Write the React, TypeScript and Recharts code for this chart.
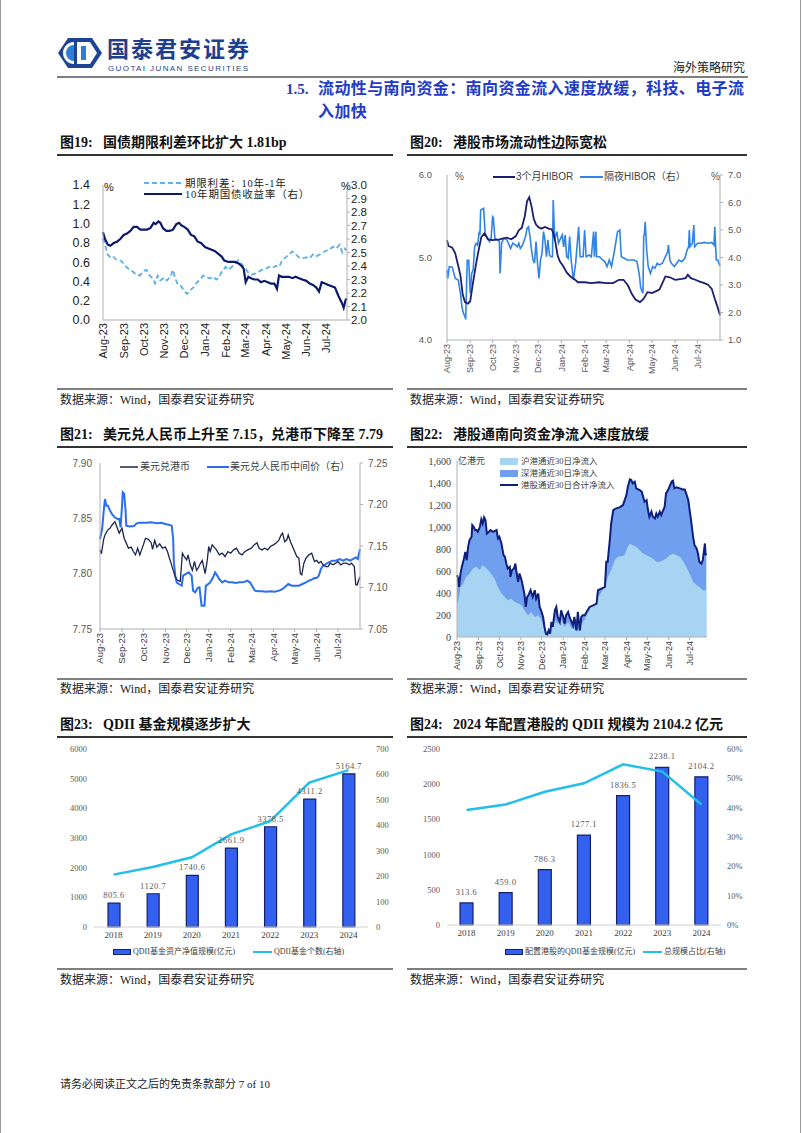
import React from "react";
import { ComposedChart, Line, Area, Bar, XAxis, YAxis, LabelList } from "recharts";

type Pt = [number, number];

const SANS = 'Arial, "Liberation Sans", "Noto Sans CJK SC", sans-serif';
const SERIF = '"Times New Roman", "Liberation Serif", "Noto Sans CJK SC", serif';
const CJK = '"Liberation Serif", "Noto Sans CJK SC", sans-serif';

// day offsets from 2023-08-01
const MONTH_DAYS = [0, 31, 61, 92, 122, 153, 184, 213, 244, 274, 305, 335];
const MONTH_LABELS = ["Aug-23", "Sep-23", "Oct-23", "Nov-23", "Dec-23", "Jan-24", "Feb-24", "Mar-24", "Apr-24", "May-24", "Jun-24", "Jul-24"];

// 图19
const termSpread: Pt[] = [
  [0, 0.85], [3, 0.78], [7, 0.68], [11, 0.65], [15, 0.66], [19, 0.63], [24, 0.62], [28, 0.61], [31, 0.58], [35, 0.55],
  [40, 0.52], [45, 0.5], [50, 0.47], [55, 0.46], [61, 0.51], [65, 0.52], [70, 0.46], [75, 0.43], [78, 0.38], [82, 0.46],
  [86, 0.41], [92, 0.44], [96, 0.41], [101, 0.45], [105, 0.52], [108, 0.44], [112, 0.37], [117, 0.35], [122, 0.3], [126, 0.27],
  [131, 0.31], [136, 0.34], [141, 0.39], [146, 0.42], [150, 0.46], [155, 0.45], [160, 0.43], [165, 0.45], [170, 0.42], [174, 0.44],
  [178, 0.5], [184, 0.55], [188, 0.52], [193, 0.55], [198, 0.58], [203, 0.62], [208, 0.58], [213, 0.54], [218, 0.49], [223, 0.47],
  [228, 0.48], [233, 0.5], [238, 0.52], [244, 0.53], [249, 0.55], [254, 0.54], [259, 0.56], [264, 0.55], [269, 0.62], [274, 0.65],
  [279, 0.68], [284, 0.71], [289, 0.68], [294, 0.65], [299, 0.64], [305, 0.65], [310, 0.64], [315, 0.68], [320, 0.66], [325, 0.68],
  [330, 0.7], [335, 0.72], [340, 0.73], [345, 0.76], [350, 0.74], [355, 0.78], [359, 0.7], [363, 0.74], [365, 0.72],
];
const cgb10y: Pt[] = [
  [0, 2.65], [3, 2.6], [7, 2.56], [11, 2.55], [16, 2.57], [21, 2.58], [26, 2.6], [31, 2.63], [36, 2.64], [41, 2.66],
  [46, 2.69], [51, 2.69], [56, 2.67], [61, 2.67], [66, 2.67], [71, 2.68], [76, 2.72], [79, 2.71], [83, 2.73], [86, 2.72],
  [90, 2.68], [95, 2.66], [100, 2.66], [105, 2.67], [110, 2.71], [114, 2.72], [118, 2.7], [122, 2.69], [127, 2.67], [132, 2.63],
  [137, 2.62], [142, 2.58], [147, 2.57], [153, 2.54], [158, 2.53], [163, 2.52], [168, 2.51], [173, 2.49], [178, 2.47], [182, 2.44],
  [188, 2.43], [193, 2.43], [198, 2.43], [203, 2.42], [208, 2.4], [211, 2.38], [214, 2.28], [218, 2.32], [222, 2.31], [227, 2.3],
  [232, 2.3], [237, 2.28], [242, 2.29], [247, 2.28], [252, 2.27], [257, 2.27], [261, 2.23], [264, 2.33], [268, 2.32], [274, 2.32],
  [279, 2.32], [284, 2.31], [289, 2.32], [294, 2.31], [299, 2.3], [305, 2.29], [310, 2.27], [315, 2.26], [320, 2.24], [324, 2.21],
  [328, 2.28], [333, 2.27], [338, 2.26], [343, 2.25], [348, 2.24], [353, 2.18], [358, 2.13], [361, 2.09], [364, 2.15], [366, 2.16],
];

// 图20
const hibor3m: Pt[] = [
  [0, 5.21], [2, 5.14], [7, 5.12], [11, 5.05], [15, 4.9], [18, 4.78], [21, 4.55], [24, 4.46], [28, 4.44], [31, 4.47],
  [34, 4.65], [37, 4.82], [40, 4.98], [43, 5.12], [46, 5.25], [50, 5.29], [55, 5.22], [61, 5.21], [70, 5.22], [80, 5.24],
  [86, 5.22], [92, 5.26], [96, 5.33], [100, 5.36], [104, 5.5], [107, 5.68], [110, 5.73], [113, 5.62], [116, 5.47], [119, 5.4],
  [122, 5.37], [126, 5.35], [131, 5.37], [136, 5.35], [140, 5.34], [142, 5.3], [145, 5.18], [148, 5.02], [151, 4.95], [155, 4.9],
  [160, 4.82], [165, 4.77], [170, 4.74], [175, 4.7], [184, 4.7], [193, 4.69], [203, 4.7], [213, 4.69], [222, 4.69], [230, 4.73],
  [236, 4.73], [242, 4.66], [247, 4.56], [252, 4.49], [258, 4.46], [263, 4.5], [268, 4.58], [274, 4.57], [279, 4.59], [284, 4.61],
  [288, 4.69], [292, 4.77], [298, 4.76], [305, 4.73], [314, 4.74], [319, 4.75], [322, 4.79], [326, 4.75], [332, 4.73], [337, 4.71],
  [344, 4.69], [349, 4.67], [354, 4.62], [358, 4.5], [361, 4.42], [365, 4.3],
];
const hiborOn: Pt[] = [
  [0, 3.55], [1, 3.24], [3, 3.67], [7, 3.65], [11, 3.24], [15, 3.18], [18, 2.7], [20, 2.2], [22, 1.97], [24, 1.85],
  [25, 1.75], [27, 3.9], [29, 3.9], [31, 2.7], [33, 3.42], [35, 3.55], [37, 4.39], [39, 4.52], [41, 4.45], [43, 4.94],
  [44, 4.82], [45, 5.73], [49, 5.79], [51, 4.88], [54, 4.7], [57, 4.58], [59, 4.7], [61, 5.48], [62, 5.45], [64, 4.7],
  [67, 4.64], [70, 4.6], [71, 3.42], [73, 4.52], [76, 4.7], [80, 4.64], [85, 4.33], [88, 4.52], [92, 4.45], [94, 4.39],
  [96, 4.52], [98, 4.33], [101, 4.45], [105, 4.76], [107, 5.06], [109, 5.12], [111, 4.76], [113, 4.27], [115, 3.91], [117, 3.79],
  [119, 4.58], [121, 3.79], [123, 3.24], [125, 3.91], [127, 4.15], [129, 4.94], [131, 4.64], [133, 4.03], [135, 4.64], [137, 4.09],
  [139, 4.03], [141, 4.03], [142, 6.09], [144, 4.64], [147, 4.94], [149, 4.52], [151, 4.64], [154, 4.82], [156, 4.39], [158, 4.82],
  [160, 4.03], [162, 3.97], [164, 4.76], [166, 3.91], [169, 3.18], [172, 3.79], [176, 5.12], [178, 4.03], [182, 4.03], [184, 5.0],
  [186, 4.03], [190, 4.09], [193, 4.03], [196, 4.94], [197, 4.03], [199, 4.94], [200, 4.03], [204, 4.03], [208, 3.91], [211, 3.85],
  [214, 3.67], [217, 3.91], [220, 3.67], [224, 4.27], [228, 4.94], [231, 5.0], [233, 4.03], [237, 3.97], [241, 3.91], [246, 3.91],
  [250, 3.91], [254, 3.85], [257, 3.4], [259, 2.9], [261, 2.76], [262, 2.7], [263, 4.76], [264, 4.88], [265, 5.3], [267, 4.27],
  [269, 3.67], [272, 3.42], [275, 3.67], [278, 3.61], [281, 3.79], [284, 3.73], [288, 3.79], [292, 4.03], [295, 4.21], [296, 4.45],
  [298, 3.91], [300, 3.79], [304, 3.67], [307, 3.79], [310, 3.91], [314, 3.85], [318, 3.97], [321, 4.27], [323, 4.39], [324, 5.0],
  [325, 4.39], [328, 4.52], [330, 5.18], [331, 4.39], [335, 4.52], [339, 4.52], [344, 4.55], [349, 4.52], [354, 4.55], [357, 4.45],
  [358, 5.12], [360, 3.91], [362, 3.91], [365, 3.69],
];

// 图21
const usdHkd: Pt[] = [
  [0, 7.8215], [2, 7.818], [5, 7.8306], [7, 7.835], [11, 7.8396], [14, 7.841], [17, 7.844], [21, 7.847], [24, 7.842], [27, 7.8366],
  [31, 7.841], [34, 7.832], [37, 7.8276], [40, 7.823], [44, 7.824], [47, 7.82], [50, 7.817], [53, 7.823], [56, 7.817], [61, 7.826],
  [64, 7.832], [68, 7.831], [72, 7.828], [74, 7.822], [77, 7.83], [80, 7.824], [84, 7.827], [88, 7.823], [92, 7.824], [95, 7.82],
  [97, 7.8155], [100, 7.8095], [103, 7.803], [106, 7.797], [109, 7.794], [113, 7.793], [116, 7.8185], [119, 7.815], [122, 7.8125], [124, 7.817],
  [127, 7.808], [130, 7.803], [133, 7.811], [136, 7.803], [139, 7.806], [141, 7.809], [144, 7.812], [146, 7.806], [148, 7.8], [151, 7.812],
  [153, 7.8245], [155, 7.82], [158, 7.826], [160, 7.8245], [164, 7.8215], [168, 7.817], [172, 7.8185], [176, 7.8155], [180, 7.82], [184, 7.8185],
  [188, 7.8215], [192, 7.823], [196, 7.8185], [200, 7.817], [204, 7.82], [208, 7.8215], [213, 7.823], [217, 7.826], [221, 7.828], [224, 7.823],
  [228, 7.8215], [232, 7.823], [236, 7.8215], [240, 7.8245], [244, 7.826], [248, 7.8276], [252, 7.8306], [255, 7.835], [257, 7.8366], [260, 7.829],
  [263, 7.8306], [265, 7.835], [268, 7.829], [271, 7.8245], [274, 7.82], [277, 7.8155], [280, 7.814], [282, 7.8], [284, 7.799], [287, 7.8095],
  [290, 7.814], [294, 7.817], [298, 7.8185], [302, 7.811], [305, 7.812], [308, 7.8095], [311, 7.811], [314, 7.808], [318, 7.8064], [321, 7.8064],
  [324, 7.8095], [328, 7.808], [332, 7.8095], [335, 7.811], [339, 7.808], [343, 7.8095], [347, 7.8095], [351, 7.808], [354, 7.8095], [358, 7.8064],
  [360, 7.79], [362, 7.7898], [364, 7.794], [366, 7.797],
];
const usdCny: Pt[] = [
  [0, 7.158], [1, 7.1624], [3, 7.1705], [5, 7.19], [7, 7.2066], [9, 7.1986], [11, 7.1986], [14, 7.1926], [17, 7.1885], [21, 7.1845],
  [25, 7.1825], [27, 7.1825], [29, 7.1725], [31, 7.1986], [32, 7.2147], [34, 7.2127], [36, 7.1926], [37, 7.1745], [42, 7.1735], [48, 7.174],
  [51, 7.177], [56, 7.178], [61, 7.178], [66, 7.178], [71, 7.1785], [76, 7.178], [81, 7.1775], [86, 7.178], [92, 7.1765], [97, 7.1755],
  [101, 7.1745], [103, 7.1585], [104, 7.1303], [106, 7.1143], [108, 7.1062], [111, 7.1042], [115, 7.1022], [117, 7.1143], [121, 7.1163], [125, 7.1183],
  [129, 7.1143], [131, 7.0962], [134, 7.0942], [137, 7.099], [140, 7.1002], [143, 7.0781], [145, 7.0781], [147, 7.0781], [149, 7.102], [152, 7.104],
  [155, 7.106], [159, 7.112], [162, 7.1183], [165, 7.1143], [168, 7.11], [172, 7.1062], [176, 7.1082], [181, 7.1062], [186, 7.1062], [191, 7.1054],
  [196, 7.1062], [200, 7.1062], [204, 7.107], [207, 7.1082], [211, 7.1062], [214, 7.1022], [218, 7.0962], [222, 7.0954], [228, 7.0954], [234, 7.095],
  [240, 7.0954], [246, 7.095], [252, 7.0962], [256, 7.0978], [260, 7.1002], [265, 7.1042], [270, 7.1022], [275, 7.1022], [280, 7.1022], [285, 7.1042],
  [290, 7.1062], [294, 7.1082], [298, 7.1094], [302, 7.1114], [305, 7.1114], [308, 7.1143], [311, 7.1223], [314, 7.1263], [318, 7.1283], [322, 7.1303],
  [327, 7.1323], [332, 7.1323], [337, 7.1343], [342, 7.1323], [347, 7.1343], [352, 7.1323], [356, 7.1343], [360, 7.1363], [363, 7.1343], [366, 7.1464],
];

// 图22
const sbTotal: Pt[] = [
  [0, 562], [1, 547], [3, 455], [5, 577], [7, 638], [10, 713], [12, 774], [14, 698], [16, 820], [18, 880],
  [21, 911], [22, 1017], [24, 1002], [26, 972], [28, 972], [30, 956], [33, 1002], [35, 1069], [37, 1032], [39, 1087],
  [41, 1063], [43, 941], [46, 956], [48, 972], [52, 956], [57, 972], [59, 896], [61, 911], [64, 850], [67, 744],
  [69, 729], [71, 668], [73, 622], [76, 638], [77, 547], [79, 607], [82, 622], [84, 668], [86, 577], [88, 501],
  [90, 577], [93, 516], [95, 455], [97, 395], [99, 273], [101, 364], [103, 380], [106, 425], [109, 364], [112, 425],
  [114, 349], [117, 395], [119, 273], [121, 243], [124, 182], [126, 91], [128, 30], [130, 24], [132, 61], [134, 30],
  [136, 137], [138, 91], [141, 243], [143, 273], [145, 182], [148, 137], [150, 243], [153, 182], [155, 121], [157, 197],
  [160, 228], [162, 182], [165, 137], [167, 106], [169, 182], [172, 61], [174, 228], [177, 61], [179, 182], [181, 197],
  [184, 197], [188, 243], [191, 273], [196, 288], [201, 304], [203, 425], [208, 440], [213, 455], [215, 683], [217, 683],
  [220, 880], [222, 1032], [225, 1154], [229, 1169], [234, 1178], [239, 1199], [244, 1290], [246, 1366], [249, 1433], [251, 1427],
  [253, 1397], [256, 1412], [258, 1351], [263, 1336], [266, 1321], [270, 1230], [273, 1245], [275, 1154], [277, 1093], [280, 1139],
  [282, 1093], [285, 1078], [287, 1123], [289, 1093], [292, 1139], [294, 1108], [297, 1154], [299, 1184], [301, 1305], [304, 1336],
  [306, 1366], [309, 1412], [311, 1421], [313, 1351], [316, 1360], [321, 1351], [325, 1342], [328, 1342], [330, 1305], [333, 1245],
  [335, 1154], [337, 1063], [340, 911], [342, 835], [345, 805], [347, 759], [349, 683], [352, 668], [354, 700], [357, 850],
  [358, 744], [359, 759],
];
const sbShanghai: Pt[] = [
  [0, 304], [2, 334], [5, 455], [9, 486], [13, 546], [18, 577], [23, 622], [28, 638], [33, 607], [36, 653],
  [40, 638], [45, 607], [49, 577], [54, 531], [59, 455], [64, 395], [69, 364], [73, 334], [78, 349], [83, 319],
  [88, 304], [93, 288], [97, 243], [102, 197], [107, 228], [112, 182], [117, 197], [121, 167], [126, 61], [131, 15],
  [136, 91], [141, 152], [145, 121], [150, 167], [155, 91], [160, 137], [165, 80], [169, 70], [174, 50], [179, 120],
  [184, 160], [189, 228], [193, 273], [198, 288], [203, 364], [208, 410], [213, 455], [217, 546], [222, 607], [227, 698],
  [232, 729], [237, 735], [241, 744], [246, 820], [249, 850], [253, 835], [258, 820], [263, 789], [268, 759], [273, 744],
  [277, 729], [282, 713], [287, 683], [292, 683], [297, 698], [301, 713], [306, 744], [311, 759], [316, 744], [321, 729],
  [325, 698], [330, 638], [335, 577], [340, 501], [345, 471], [349, 455], [354, 425], [359, 425],
];

// 图23 / 图24
const years = ["2018", "2019", "2020", "2021", "2022", "2023", "2024"];
const qdiiNav = [805.6, 1120.7, 1740.6, 2661.9, 3378.5, 4311.2, 5164.7];
const qdiiCount = [206, 236, 274, 364, 416, 568, 617];
const hkQdii = [313.6, 459.0, 786.3, 1277.1, 1836.5, 2238.1, 2104.2];
const hkShare = [39.2, 41.1, 45.4, 48.3, 54.8, 52.3, 41.1];

function merge(series: Record<string, Pt[]>) {
  const map = new Map<number, any>();
  for (const [k, pts] of Object.entries(series)) {
    for (const [d, v] of pts) {
      const row = map.get(d) ?? { d };
      row[k] = v;
      map.set(d, row);
    }
  }
  return [...map.values()].sort((a, b) => a.d - b.d);
}

const monthTick = (fs: number, fill: string, gap: number) => (p: any) => {
  const i = MONTH_DAYS.indexOf(p.payload.value);
  return (
    <g transform={`translate(${p.x},${p.y + gap}) rotate(-90)`}>
      <text x={0} y={0} dy="0.35em" textAnchor="end" fontSize={fs} fill={fill} fontFamily={SANS}>
        {MONTH_LABELS[i]}
      </text>
    </g>
  );
};

const abs = (x: number, y: number): React.CSSProperties => ({ position: "absolute", left: x, top: y });

function Txt({ x, cy, fs, children, color = "#222", bold = false, font = CJK, lh, style = {} }: any) {
  const h = lh ?? Math.round(fs * 1.4);
  return (
    <div style={{ position: "absolute", left: x, top: cy - h / 2, fontSize: fs, lineHeight: `${h}px`, color, fontWeight: bold ? 700 : 400, fontFamily: font, whiteSpace: "nowrap", ...style }}>
      {children}
    </div>
  );
}

function LineKey({ x, cy, w, color, width = 2, dash }: any) {
  return (
    <svg style={abs(x, cy - 4)} width={w} height={8}>
      <line x1={0} y1={4} x2={w} y2={4} stroke={color} strokeWidth={width} strokeDasharray={dash} />
    </svg>
  );
}

function BoxKey({ x, cy, w, h, fill, stroke }: any) {
  return <div style={{ position: "absolute", left: x, top: cy - h / 2, width: w, height: h, background: fill, boxSizing: "border-box", border: stroke ? `1.5px solid ${stroke}` : "none" }} />;
}

function HLine({ x1, x2, y, color = "#333", w = 2 }: any) {
  return <div style={{ position: "absolute", left: x1, top: y, width: x2 - x1, height: w, background: color }} />;
}

const AX = { stroke: "#b0b0b0" };

function Chart19() {
  const data = merge({ spread: termSpread, yld: cgb10y });
  return (
    <div style={abs(55, 165)}>
      <ComposedChart width={320} height={220} data={data} margin={{ top: 20, right: 0, bottom: 0, left: 0 }}>
        <XAxis dataKey="d" type="number" domain={[0, 366]} ticks={MONTH_DAYS} interval={0} height={65} tick={monthTick(11, "#222", 3)} tickLine={false} tickSize={0} tickMargin={0} axisLine={AX} />
        <YAxis yAxisId="l" domain={[0, 1.4]} ticks={[0, 0.2, 0.4, 0.6, 0.8, 1.0, 1.2, 1.4]} interval={0} width={48} tickFormatter={(v: number) => v.toFixed(1)} tick={{ fontSize: 12.5, fill: "#222", fontFamily: SANS }} tickLine={false} tickSize={0} tickMargin={13} axisLine={AX} />
        <YAxis yAxisId="r" orientation="right" domain={[2, 3]} ticks={[2.0, 2.1, 2.2, 2.3, 2.4, 2.5, 2.6, 2.7, 2.8, 2.9, 3.0]} interval={0} width={28} tickFormatter={(v: number) => v.toFixed(1)} tick={{ fontSize: 11.5, fill: "#222", fontFamily: SANS }} tickSize={3} tickMargin={1} tickLine={AX} axisLine={AX} />
        <Line yAxisId="l" dataKey="spread" stroke="#5cb0e6" strokeWidth={1.8} strokeDasharray="5 3" dot={false} connectNulls isAnimationActive={false} />
        <Line yAxisId="r" dataKey="yld" stroke="#0c1a6e" strokeWidth={2.2} dot={false} connectNulls isAnimationActive={false} />
      </ComposedChart>
      <Txt x={104 - 55} cy={187 - 165} fs={11} lh={12} font={SANS}>%</Txt>
      <Txt x={341 - 55} cy={186 - 165} fs={11} lh={12} font={SANS}>%</Txt>
      <LineKey x={144 - 55} cy={183 - 165} w={38} color="#5cb0e6" dash="5 3" />
      <Txt x={185 - 55} cy={183 - 165} fs={10.5} lh={11} style={{ letterSpacing: 0.8 }}>期限利差：10年-1年</Txt>
      <LineKey x={144 - 55} cy={194 - 165} w={38} color="#0c1a6e" width={2.2} />
      <Txt x={185 - 55} cy={194 - 165} fs={10.5} lh={11} style={{ letterSpacing: 0.8 }}>10年期国债收益率（右）</Txt>
    </div>
  );
}

function Chart20() {
  const data = merge({ m3: hibor3m, on: hiborOn });
  return (
    <div style={abs(405, 160)}>
      <ComposedChart width={345} height={220} data={data} margin={{ top: 15, right: 0, bottom: 0, left: 0 }}>
        <XAxis dataKey="d" type="number" domain={[0, 365]} ticks={MONTH_DAYS} interval={0} height={40} tick={monthTick(9, "#595959", 1)} tickLine={AX} tickSize={3} tickMargin={0} axisLine={AX} />
        <YAxis yAxisId="l" domain={[4, 6]} ticks={[4, 5, 6]} interval={0} width={42} tickFormatter={(v: number) => v.toFixed(1)} tick={{ fontSize: 9.5, fill: "#595959", fontFamily: SANS }} tickLine={false} tickSize={0} tickMargin={15} axisLine={AX} />
        <YAxis yAxisId="r" orientation="right" domain={[1, 7]} ticks={[1, 2, 3, 4, 5, 6, 7]} interval={0} width={30} tickFormatter={(v: number) => v.toFixed(1)} tick={{ fontSize: 9.5, fill: "#595959", fontFamily: SANS }} tickLine={AX} tickSize={3} tickMargin={5} axisLine={AX} />
        <Line yAxisId="r" dataKey="on" stroke="#2f84e6" strokeWidth={1.6} dot={false} connectNulls isAnimationActive={false} />
        <Line yAxisId="l" dataKey="m3" stroke="#1b1f6e" strokeWidth={1.8} dot={false} connectNulls isAnimationActive={false} />
      </ComposedChart>
      <Txt x={455 - 405} cy={177 - 160} fs={10} lh={12} color="#595959" font={SANS}>%</Txt>
      <Txt x={711 - 405} cy={177 - 160} fs={10} lh={12} color="#595959" font={SANS}>%</Txt>
      <LineKey x={493 - 405} cy={177 - 160} w={22} color="#1b1f6e" />
      <Txt x={516 - 405} cy={177 - 160} fs={10} lh={12} color="#404040" font={SANS}>3个月HIBOR</Txt>
      <LineKey x={580 - 405} cy={177 - 160} w={23} color="#2f84e6" />
      <Txt x={604 - 405} cy={177 - 160} fs={10} lh={12} color="#404040" font={SANS}>隔夜HIBOR（右）</Txt>
    </div>
  );
}

function Chart21() {
  const data = merge({ hkd: usdHkd, cny: usdCny });
  return (
    <div style={abs(55, 445)}>
      <ComposedChart width={340} height={229} data={data} margin={{ top: 18, right: 0, bottom: 0, left: 0 }}>
        <XAxis dataKey="d" type="number" domain={[0, 366]} ticks={MONTH_DAYS} interval={0} height={45} tick={monthTick(9.5, "#404040", 1)} tickLine={AX} tickSize={3} tickMargin={0} axisLine={AX} />
        <YAxis yAxisId="l" domain={[7.75, 7.9]} ticks={[7.75, 7.8, 7.85, 7.9]} interval={0} width={45} tickFormatter={(v: number) => v.toFixed(2)} tick={{ fontSize: 10, fill: "#595959", fontFamily: SANS }} tickLine={false} tickSize={0} tickMargin={8} axisLine={AX} />
        <YAxis yAxisId="r" orientation="right" domain={[7.05, 7.25]} ticks={[7.05, 7.1, 7.15, 7.2, 7.25]} interval={0} width={35} tickFormatter={(v: number) => v.toFixed(2)} tick={{ fontSize: 10, fill: "#595959", fontFamily: SANS }} tickLine={AX} tickSize={3} tickMargin={5} axisLine={AX} />
        <Line yAxisId="r" dataKey="cny" stroke="#2b6ef0" strokeWidth={2} dot={false} connectNulls isAnimationActive={false} />
        <Line yAxisId="l" dataKey="hkd" stroke="#1c2550" strokeWidth={1.3} dot={false} connectNulls isAnimationActive={false} />
      </ComposedChart>
      <LineKey x={120 - 55} cy={467 - 445} w={18} color="#1c2550" width={1.5} />
      <Txt x={140 - 55} cy={467 - 445} fs={10} lh={12} color="#404040" font={SANS}>美元兑港币</Txt>
      <LineKey x={207 - 55} cy={467 - 445} w={22} color="#2b6ef0" />
      <Txt x={230 - 55} cy={467 - 445} fs={10} lh={12} color="#404040" font={SANS}>美元兑人民币中间价（右）</Txt>
    </div>
  );
}

function Chart22() {
  const data = merge({ total: sbTotal, sh: sbShanghai });
  const fmt = (v: number) => (v >= 1000 ? `${Math.floor(v / 1000)},${String(v % 1000).padStart(3, "0")}` : String(v));
  return (
    <div style={abs(405, 445)}>
      <ComposedChart width={310} height={232} data={data} margin={{ top: 16, right: 8, bottom: 0, left: 0 }}>
        <XAxis dataKey="d" type="number" domain={[0, 360]} ticks={MONTH_DAYS} interval={0} height={40} tick={monthTick(9, "#404040", 1)} tickLine={AX} tickSize={3} tickMargin={0} axisLine={AX} />
        <YAxis domain={[0, 1600]} ticks={[0, 200, 400, 600, 800, 1000, 1200, 1400, 1600]} interval={0} width={52} tickFormatter={fmt} tick={{ fontSize: 10, fill: "#404040", fontFamily: SERIF }} tickLine={false} tickSize={0} tickMargin={6} axisLine={AX} />
        <Area dataKey="total" stroke="none" fill="#6f9fee" fillOpacity={1} connectNulls isAnimationActive={false} />
        <Area dataKey="sh" stroke="none" fill="#a8d4f3" fillOpacity={1} connectNulls isAnimationActive={false} />
        <Line dataKey="total" stroke="#0f1f7c" strokeWidth={2} dot={false} connectNulls isAnimationActive={false} />
      </ComposedChart>
      <Txt x={458 - 405} cy={461 - 445} fs={9} lh={11} color="#404040">亿港元</Txt>
      <BoxKey x={500 - 405} cy={461 - 445} w={18} h={7} fill="#a8d4f3" />
      <Txt x={521 - 405} cy={461 - 445} fs={8.5} lh={11} color="#404040">沪港通近30日净流入</Txt>
      <BoxKey x={500 - 405} cy={473 - 445} w={18} h={7} fill="#6f9fee" />
      <Txt x={521 - 405} cy={473 - 445} fs={8.5} lh={11} color="#404040">深港通近30日净流入</Txt>
      <LineKey x={500 - 405} cy={485 - 445} w={18} color="#0f1f7c" />
      <Txt x={521 - 405} cy={485 - 445} fs={8.5} lh={11} color="#404040">港股通近30日合计净流入</Txt>
    </div>
  );
}

const BAR_FILL = "#3360ef";
const BAR_EDGE = "#14206b";
const CYAN = "#22bfe9";

function Chart23() {
  const data = years.map((y, i) => ({ year: y, nav: qdiiNav[i], count: qdiiCount[i] }));
  return (
    <div style={abs(55, 735)}>
      <ComposedChart width={340} height={212} data={data} margin={{ top: 14, right: 0, bottom: 0, left: 0 }}>
        <XAxis dataKey="year" height={20} tick={{ fontSize: 9, fill: "#404040", fontFamily: SERIF }} tickLine={false} tickSize={0} tickMargin={5} axisLine={{ stroke: "#d0d0d0" }} />
        <YAxis yAxisId="l" domain={[0, 6000]} ticks={[0, 1000, 2000, 3000, 4000, 5000, 6000]} interval={0} width={39} tick={{ fontSize: 8.5, fill: "#595959", fontFamily: SERIF }} axisLine={false} tickLine={false} tickSize={0} tickMargin={7} />
        <YAxis yAxisId="r" orientation="right" domain={[0, 700]} ticks={[0, 100, 200, 300, 400, 500, 600, 700]} interval={0} width={27} tick={{ fontSize: 8.5, fill: "#595959", fontFamily: SERIF }} axisLine={false} tickLine={false} tickSize={0} tickMargin={8} />
        <Bar yAxisId="l" dataKey="nav" barSize={12} fill={BAR_FILL} stroke={BAR_EDGE} strokeWidth={1.2} isAnimationActive={false}>
          <LabelList dataKey="nav" position="top" offset={5} formatter={(v: any) => Number(v).toFixed(1)} style={{ fontSize: 8.5, fill: "#595959", fontFamily: SERIF, letterSpacing: 0.5 }} />
        </Bar>
        <Line yAxisId="r" dataKey="count" stroke={CYAN} strokeWidth={2.5} dot={false} isAnimationActive={false} />
      </ComposedChart>
      <BoxKey x={113 - 55} cy={952 - 735} w={18} h={6} fill={BAR_FILL} stroke={BAR_EDGE} />
      <Txt x={133 - 55} cy={952 - 735} fs={8} lh={10} color="#404040">QDII基金资产净值规模(亿元)</Txt>
      <LineKey x={253 - 55} cy={952 - 735} w={19} color={CYAN} />
      <Txt x={274 - 55} cy={952 - 735} fs={8} lh={10} color="#404040">QDII基金个数(右轴)</Txt>
    </div>
  );
}

function Chart24() {
  const data = years.map((y, i) => ({ year: y, hk: hkQdii[i], share: hkShare[i] }));
  return (
    <div style={abs(405, 735)}>
      <ComposedChart width={345} height={210} data={data} margin={{ top: 14, right: 0, bottom: 0, left: 0 }}>
        <XAxis dataKey="year" height={20} tick={{ fontSize: 9, fill: "#404040", fontFamily: SERIF }} tickLine={false} tickSize={0} tickMargin={5} axisLine={{ stroke: "#d0d0d0" }} />
        <YAxis yAxisId="l" domain={[0, 2500]} ticks={[0, 500, 1000, 1500, 2000, 2500]} interval={0} width={42} tick={{ fontSize: 8.5, fill: "#595959", fontFamily: SERIF }} axisLine={false} tickLine={false} tickSize={0} tickMargin={7} />
        <YAxis yAxisId="r" orientation="right" domain={[0, 60]} ticks={[0, 10, 20, 30, 40, 50, 60]} interval={0} width={29} tickFormatter={(v: number) => `${v}%`} tick={{ fontSize: 8.5, fill: "#595959", fontFamily: SERIF }} axisLine={false} tickLine={false} tickSize={0} tickMargin={6} />
        <Bar yAxisId="l" dataKey="hk" barSize={13} fill={BAR_FILL} stroke={BAR_EDGE} strokeWidth={1.2} isAnimationActive={false}>
          <LabelList dataKey="hk" position="top" offset={8} formatter={(v: any) => Number(v).toFixed(1)} style={{ fontSize: 8.5, fill: "#595959", fontFamily: SERIF, letterSpacing: 0.5 }} />
        </Bar>
        <Line yAxisId="r" dataKey="share" stroke={CYAN} strokeWidth={2.5} dot={false} isAnimationActive={false} />
      </ComposedChart>
      <BoxKey x={505 - 405} cy={952 - 735} w={18} h={6} fill={BAR_FILL} stroke={BAR_EDGE} />
      <Txt x={525 - 405} cy={952 - 735} fs={8} lh={10} color="#404040">配置港股的QDII基金规模(亿元)</Txt>
      <LineKey x={643 - 405} cy={952 - 735} w={19} color={CYAN} />
      <Txt x={664 - 405} cy={952 - 735} fs={8} lh={10} color="#404040">总规模占比(右轴)</Txt>
    </div>
  );
}

function Logo() {
  return (
    <svg style={abs(57, 37)} width={46} height={32} viewBox="0 0 46 32">
      <polygon points="11,1 35,1 45,16 35,31 11,31 1,16" fill="#1d4492" />
      <polygon points="20,5 33,5 40,16 33,27 20,27" fill="#ffffff" />
      <path d="M 17 5 A 11 11 0 0 0 17 27 Z" fill="#ffffff" />
      <path d="M 17 8 A 8 8 0 0 0 17 24 Z" fill="#2d7fd4" />
      <rect x={24} y={9} width={5} height={14} fill="#2d7fd4" />
    </svg>
  );
}

function Title({ x, cy, num, text }: any) {
  return (
    <>
      <Txt x={x} cy={cy} fs={14} lh={18} bold color="#111" font={SERIF}>{num}</Txt>
      <Txt x={x + 43} cy={cy} fs={14} lh={18} bold color="#111" font={SERIF}>{text}</Txt>
    </>
  );
}

export default function App() {
  return (
    <div style={{ position: "absolute", left: 0, top: 0, width: 802, height: 1133, background: "#fff", overflow: "hidden", fontFamily: CJK }}>
      <div style={{ position: "absolute", left: 0, top: 0, width: 1, height: 1133, background: "#9a9a9a" }} />
      <div style={{ position: "absolute", left: 800, top: 0, width: 1, height: 1133, background: "#9a9a9a" }} />

      <Logo />
      <Txt x={107} cy={47} fs={22} lh={22} bold color="#1d3f8e" font='"Noto Sans CJK SC", sans-serif' style={{ letterSpacing: 2 }}>国泰君安证券</Txt>
      <Txt x={108} cy={68.5} fs={8} lh={9} color="#1d3f8e" font={SANS} style={{ letterSpacing: 1.4 }}>GUOTAI JUNAN SECURITIES</Txt>
      <div style={{ position: "absolute", right: 57, top: 60, fontSize: 12, lineHeight: "16px", color: "#222", fontFamily: CJK, whiteSpace: "nowrap" }}>海外策略研究</div>
      <HLine x1={57} x2={748} y={76} color="#7f7f7f" w={2} />

      <Txt x={286} cy={89} fs={15} lh={20} bold color="#1f3cc8" font={SERIF}>1.5.</Txt>
      <Txt x={318} cy={89} fs={16} lh={20} bold color="#1f3cc8" font={SERIF} style={{ letterSpacing: 0.4 }}>流动性与南向资金：南向资金流入速度放缓，科技、电子流</Txt>
      <Txt x={318} cy={112} fs={16} lh={20} bold color="#1f3cc8" font={SERIF} style={{ letterSpacing: 0.4 }}>入加快</Txt>

      <Title x={60} cy={143} num="图19:" text="国债期限利差环比扩大 1.81bp" />
      <Title x={410} cy={143} num="图20:" text="港股市场流动性边际宽松" />
      <HLine x1={57} x2={393} y={154} />
      <HLine x1={407} x2={747} y={154} />
      <Chart19 />
      <Chart20 />
      <HLine x1={57} x2={393} y={388} color="#7f7f7f" />
      <HLine x1={407} x2={747} y={388} color="#7f7f7f" />
      <Txt x={60} cy={400} fs={12} lh={16}>数据来源：Wind，国泰君安证券研究</Txt>
      <Txt x={410} cy={400} fs={12} lh={16}>数据来源：Wind，国泰君安证券研究</Txt>

      <Title x={60} cy={435} num="图21:" text="美元兑人民币上升至 7.15，兑港币下降至 7.79" />
      <Title x={410} cy={435} num="图22:" text="港股通南向资金净流入速度放缓" />
      <HLine x1={57} x2={393} y={446} />
      <HLine x1={407} x2={747} y={446} />
      <Chart21 />
      <Chart22 />
      <HLine x1={57} x2={393} y={678} color="#7f7f7f" />
      <HLine x1={407} x2={747} y={678} color="#7f7f7f" />
      <Txt x={60} cy={689} fs={12} lh={16}>数据来源：Wind，国泰君安证券研究</Txt>
      <Txt x={410} cy={689} fs={12} lh={16}>数据来源：Wind，国泰君安证券研究</Txt>

      <Title x={60} cy={725} num="图23:" text="QDII 基金规模逐步扩大" />
      <Title x={410} cy={725} num="图24:" text="2024 年配置港股的 QDII 规模为 2104.2 亿元" />
      <HLine x1={57} x2={393} y={736} />
      <HLine x1={407} x2={747} y={736} />
      <Chart23 />
      <Chart24 />
      <HLine x1={57} x2={393} y={968} color="#7f7f7f" />
      <HLine x1={407} x2={747} y={968} color="#7f7f7f" />
      <Txt x={60} cy={980} fs={12} lh={16}>数据来源：Wind，国泰君安证券研究</Txt>
      <Txt x={410} cy={980} fs={12} lh={16}>数据来源：Wind，国泰君安证券研究</Txt>

      <Txt x={60} cy={1084} fs={11} lh={14}>请务必阅读正文之后的免责条款部分 7 of 10</Txt>
    </div>
  );
}
